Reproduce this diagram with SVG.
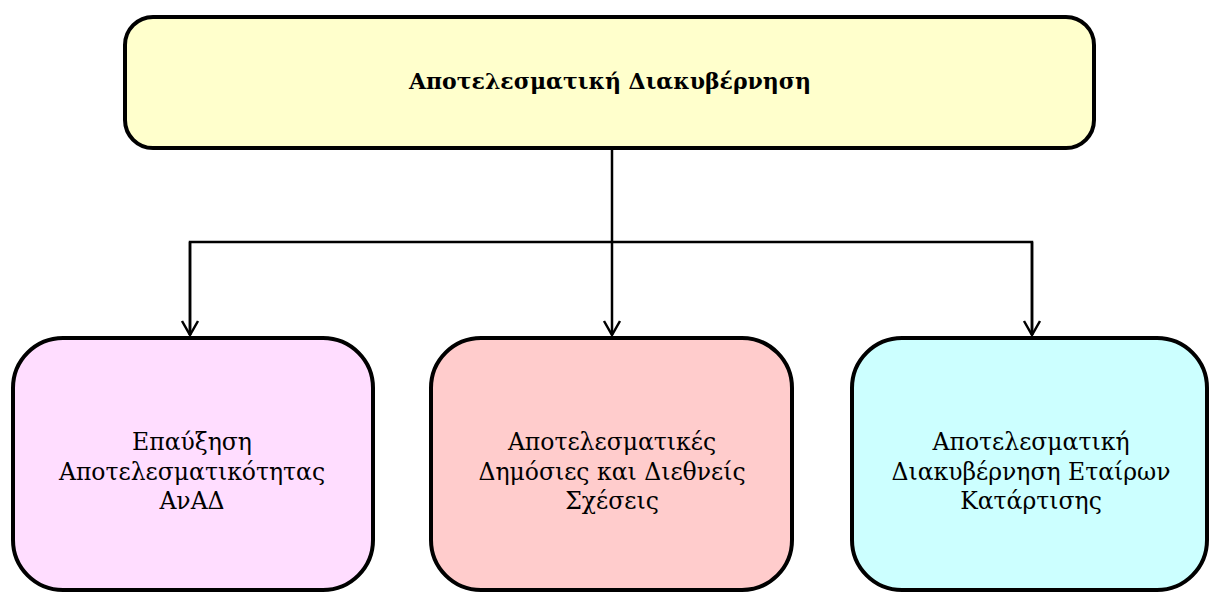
<svg xmlns="http://www.w3.org/2000/svg" width="1210" height="592" viewBox="0 0 1210 592">
<style>
.box{stroke:#000;stroke-width:4}
.t{font-family:"DejaVu Serif","Liberation Serif",serif;font-size:23.5px;fill:#000;text-anchor:middle}
.tb{font-family:"DejaVu Serif","Liberation Serif",serif;font-size:22px;font-weight:bold;fill:#000;text-anchor:middle}
.c{fill:none;stroke:#000;stroke-width:2.5}
</style>
<defs>
<marker id="arr" viewBox="0 0 20 20" refX="18" refY="10" markerWidth="20" markerHeight="20" markerUnits="userSpaceOnUse" orient="auto">
<path d="M4,2 L18,10 L4,18" fill="none" stroke="#000" stroke-width="2.5"/>
</marker>
</defs>
<g id="connectors">
<path class="c" d="M612,149 V335" marker-end="url(#arr)"/>
<path class="c" d="M190,335 V242 H1032 V335" />
<path class="c" d="M190,242 V335" marker-end="url(#arr)"/>
<path class="c" d="M1032,242 V335" marker-end="url(#arr)"/>
</g>
<g id="top">
<rect class="box" x="125" y="17" width="969" height="131" rx="28" fill="#ffffcc"/>
<text class="tb" x="610" y="89">Αποτελεσματική Διακυβέρνηση</text>
</g>
<g id="left">
<rect class="box" x="13" y="338" width="360" height="252" rx="50" fill="#ffddff"/>
<text class="t" x="192" y="450">Επαύξηση</text>
<text class="t" x="192" y="480">Αποτελεσματικότητας</text>
<text class="t" x="192" y="509">ΑνΑΔ</text>
</g>
<g id="middle">
<rect class="box" x="431" y="338" width="361" height="252" rx="50" fill="#ffcccc"/>
<text class="t" x="612" y="450">Αποτελεσματικές</text>
<text class="t" x="612" y="480">Δημόσιες και Διεθνείς</text>
<text class="t" x="612" y="509">Σχέσεις</text>
</g>
<g id="right">
<rect class="box" x="852" y="338" width="355" height="252" rx="50" fill="#ccffff"/>
<text class="t" x="1031" y="450">Αποτελεσματική</text>
<text class="t" x="1031" y="480">Διακυβέρνηση Εταίρων</text>
<text class="t" x="1031" y="509">Κατάρτισης</text>
</g>
</svg>
